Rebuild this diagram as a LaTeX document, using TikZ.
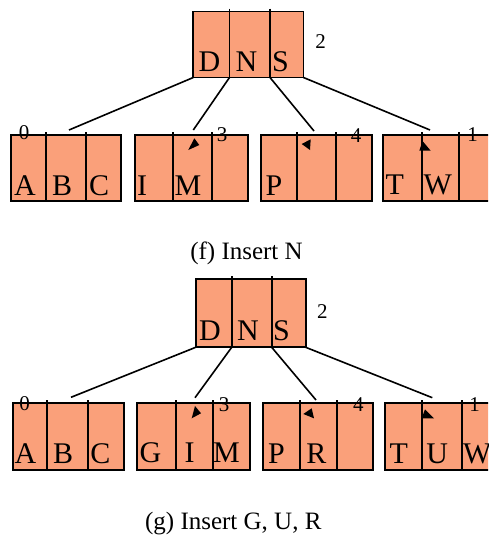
\documentclass[tikz,border=0pt]{standalone}
\usepackage{fontspec}
\setmainfont{Liberation Serif}
\definecolor{salmon}{RGB}{250,160,122}
\newcommand\bnode[7]{% name, ytop, ybottom, x0, x1, x2, x3
  \node[cell, anchor=north west, minimum width={(#7-#4)*1pt}, minimum height={(#3-#2)*1pt}] (#1) at (#4,#2) {};
  \draw[divider] (#5,#2-3) -- (#5,#3) (#6,#2-3) -- (#6,#3);
  \coordinate (#1-0) at (#4,#3);
  \coordinate (#1-1) at (#5,#3);
  \coordinate (#1-2) at (#6,#3);
  \coordinate (#1-3) at (#7,#3);
}
\begin{document}
\begin{tikzpicture}[x=1pt,y=-1pt,
  cell/.style={draw=black, fill=salmon, line width=1.8pt, inner sep=0pt, outer sep=0pt},
  divider/.style={draw=black, line width=1.8pt},
  key/.style={anchor=base west, inner sep=0pt, font=\fontsize{30}{30}\selectfont},
  num/.style={inner sep=0pt, font=\fontsize{21}{21}\selectfont},
  caption/.style={anchor=base, inner sep=0pt, font=\fontsize{25}{25}\selectfont},
  link/.style={draw=black, line width=1.6pt},
  tip/.style={fill=black}]
\useasboundingbox (0,0) rectangle (488,538);
\clip (0,0) rectangle (488,538);

% ---------------- (f) ----------------
\bnode{fr}{11.5}{77.5}{193.3}{229.5}{270}{303.5}
\bnode{fa}{135}{201}{11}{45.7}{85.7}{121}
\bnode{fb}{135}{201}{135}{173.3}{211.7}{247.7}
\bnode{fc}{135}{201}{261}{297.3}{336}{371.7}
\bnode{fd}{135}{201}{383.3}{421.7}{459.3}{497}

\coordinate (fe1) at (69,130);
\coordinate (fe2) at (193.3,130);
\coordinate (fe3) at (314,131);
\coordinate (fe4) at (430,130);
\draw[link] (fr-0) -- (fe1);
\draw[link] (fr-1) -- (fe2);
\draw[link] (fr-2) -- (fe3);
\draw[link] (fr-3) -- (fe4);
\fill[tip] (194.3,138.3) -- (199.3,145) -- (188.3,150) -- cycle;
\fill[tip] (301.7,144) -- (310.7,139.3) -- (310,150) -- cycle;
\fill[tip] (422.5,141) -- (419.3,150.7) -- (430.7,150.7) -- cycle;

\node[key] (fD) at (198.5,71.7) {D};
\node[key] (fN) at (235.5,71.7) {N};
\node[key] (fS) at (271.8,71.7) {S};
\node[key] (fA) at (14,195) {A};
\node[key] (fB) at (52,195) {B};
\node[key] (fC) at (88.8,195) {C};
\node[key] (fI) at (136.8,195.3) {I};
\node[key] (fM) at (174.5,195.3) {M};
\node[key] (fP) at (265.5,195) {P};
\node[key] (fT) at (385.5,194.5) {T};
\node[key] (fW) at (423.5,194.5) {W};

\node[num] (f0) at (24,133) {0};
\node[num] (f3) at (222,135) {3};
\node[num] (f4) at (356,136) {4};
\node[num] (f1) at (472.7,135) {1};
\node[num] (f2) at (320.7,42) {2};

\node[caption] (fcap) at (246.5,259) {(f) Insert N};

% ---------------- (g) ----------------
\bnode{gr}{279.3}{347.3}{195.7}{231.7}{271.7}{305.7}
\bnode{ga}{403.3}{470}{13.3}{47.3}{87.7}{124}
\bnode{gb}{403.3}{470}{137}{175.7}{213.3}{250}
\bnode{gc}{403.3}{470}{263.3}{299.7}{337.3}{373.3}
\bnode{gd}{403.3}{470}{385}{421.7}{461.7}{499}

\coordinate (ge1) at (71,397.3);
\coordinate (ge2) at (195,397.7);
\coordinate (ge3) at (316,400);
\coordinate (ge4) at (432.3,397.7);
\draw[link] (gr-0) -- (ge1);
\draw[link] (gr-1) -- (ge2);
\draw[link] (gr-2) -- (ge3);
\draw[link] (gr-3) -- (ge4);
\fill[tip] (195,406) -- (201,413.3) -- (191.7,418.3) -- cycle;
\fill[tip] (303.3,414) -- (311.7,408.3) -- (314,418.3) -- cycle;
\fill[tip] (425,409.3) -- (421.7,418.3) -- (434,418.3) -- cycle;

\node[key] (gD) at (198.8,340.7) {D};
\node[key] (gN) at (236.8,340.7) {N};
\node[key] (gS) at (272.8,340.7) {S};
\node[key] (gA) at (14.5,463.3) {A};
\node[key] (gB) at (52.8,463.3) {B};
\node[key] (gC) at (90.2,463.3) {C};
\node[key] (gG) at (139.5,462) {G};
\node[key] (gI) at (184.5,462) {I};
\node[key] (gM) at (212.8,462) {M};
\node[key] (gP) at (267.8,463) {P};
\node[key] (gR) at (306.2,463) {R};
\node[key] (gT) at (389.5,463) {T};
\node[key] (gU) at (426.2,463) {U};
\node[key] (gW) at (462.8,463) {W};

\node[num] (g0) at (24.7,404) {0};
\node[num] (g3) at (224,404.7) {3};
\node[num] (g4) at (358.3,405) {4};
\node[num] (g1) at (474.5,405) {1};
\node[num] (g2) at (322.3,311.8) {2};

\node[caption] (gcap) at (233.3,529) {(g) Insert G, U, R};
\end{tikzpicture}
\end{document}
